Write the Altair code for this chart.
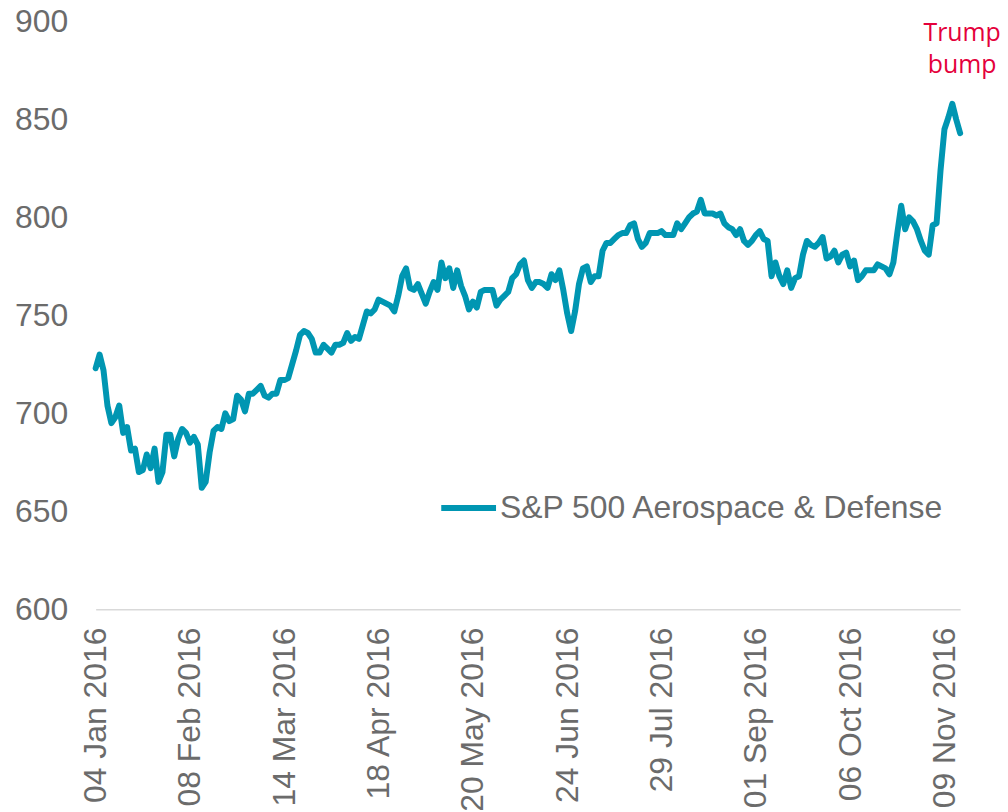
import altair as alt
import pandas as pd

# Trading-day values of the S&P 500 Aerospace & Defense index, 04 Jan 2016 .. 15 Nov 2016
values = [
    723, 730, 722, 704, 695, 698, 704, 690, 693, 681,
    682, 670, 671, 679, 672, 682, 665, 670, 689, 689,
    678, 687, 692, 690, 685, 688, 684, 662, 665, 680,
    691, 693, 692, 700, 696, 697, 709, 707, 701, 710,
    710, 712, 714, 709, 708, 710, 710, 717, 717, 718,
    725, 732, 740, 742, 741, 738, 731, 731, 735, 733,
    731, 735, 735, 736, 741, 737, 739, 738, 745, 752,
    751, 753, 758, 757, 756, 755, 752, 760, 770, 774,
    764, 763, 766, 761, 756, 762, 767, 763, 777, 769,
    774, 764, 773, 765, 760, 753, 757, 754, 762, 763,
    763, 763, 755, 758, 760, 762, 769, 771, 776, 778,
    768, 764, 767, 767, 766, 764, 771, 768, 773, 763,
    751, 742, 752, 766, 774, 775, 767, 770, 770, 783,
    787, 787, 789, 791, 792, 792, 796, 797, 789, 785,
    787, 792, 792, 792, 793, 791, 791, 791, 797, 794,
    797, 800, 802, 803, 809, 802, 802, 802, 801, 802,
    797, 795, 794, 791, 794, 788, 786, 788, 791, 793,
    789, 788, 770, 777, 770, 766, 773, 764, 769, 770,
    781, 788, 786, 785, 787, 790, 779, 780, 783, 777,
    781, 782, 775, 778, 768, 770, 773, 773, 773, 776,
    775, 774, 771, 777, 792, 806, 794, 800, 798, 794,
    788, 783, 781, 796, 797, 824, 845, 851, 858, 850,
    843,
]

holidays_2016 = ["2016-01-01", "2016-01-18", "2016-02-15", "2016-03-25",
                 "2016-05-30", "2016-07-04", "2016-09-05", "2016-11-24"]

tick_labels = ["04 Jan 2016", "08 Feb 2016", "14 Mar 2016", "18 Apr 2016",
               "20 May 2016", "24 Jun 2016", "29 Jul 2016", "01 Sep 2016",
               "06 Oct 2016", "09 Nov 2016"]

y_ticks = [600, 650, 700, 750, 800, 850, 900]

series_name = "S&P 500 Aerospace & Defense"
annotation_text = ["Trump\nbump"]
annotation_value = [900]

dates = pd.bdate_range(start="2016-01-04", periods=len(values), freq="C",
                       holidays=holidays_2016)
labels = [d.strftime("%d %b %Y") for d in dates]

df = pd.DataFrame({"date": labels, "value": values, "series": series_name})
ann = pd.DataFrame({"date": [labels[-1]], "value": annotation_value,
                    "text": annotation_text})

GRAY = "#6b6b6b"
TEAL = "#0096b2"
RED = "#e4003b"
FONT = "Liberation Sans"

x_enc = alt.X("date:O", sort=None,
              scale=alt.Scale(type="point", domain=labels, padding=0),
              axis=alt.Axis(values=tick_labels, labelAngle=-90, grid=False,
                            ticks=False, domainColor="#d9d9d9", domainWidth=1.5,
                            labelFontSize=32, labelFont=FONT, labelColor=GRAY,
                            labelPadding=18, labelOverlap=False, labelLimit=0,
                            title=None))
y_enc = alt.Y("value:Q", scale=alt.Scale(domain=[600, 900], nice=False, zero=False),
              axis=alt.Axis(values=y_ticks, grid=False, domain=False, ticks=False,
                            labelFontSize=32, labelFont=FONT, labelColor=GRAY,
                            labelPadding=28, labelLimit=0, title=None))

line = alt.Chart(df).mark_line(strokeWidth=6, strokeJoin="round",
                               strokeCap="round").encode(
    x=x_enc,
    y=y_enc,
    color=alt.Color("series:N", scale=alt.Scale(range=[TEAL]),
                    legend=alt.Legend(orient="none", legendX=344, legendY=458,
                                      title=None, symbolType="stroke",
                                      symbolStrokeWidth=6, symbolSize=3025,
                                      symbolStrokeColor=TEAL,
                                      labelFontSize=32, labelFont=FONT,
                                      labelColor=GRAY, labelOffset=1,
                                      labelLimit=0, padding=0)),
)

text = alt.Chart(ann).mark_text(align="center", baseline="top", font="Open Sans",
                                fontSize=25, color=RED, lineBreak="\n",
                                lineHeight=32, dx=2).encode(
    x=alt.X("date:O", sort=None),
    y=alt.Y("value:Q"),
    text="text:N",
)

chart = alt.layer(line, text).properties(
    width=868, height=590,
    padding={"left": 88, "top": 12, "right": 40, "bottom": 200},
    autosize=alt.AutoSizeParams(type="none"),
).configure(background="white").configure_view(stroke=None, strokeWidth=0)

chart.save("out.html", embed_options={"renderer": "svg", "actions": False})
